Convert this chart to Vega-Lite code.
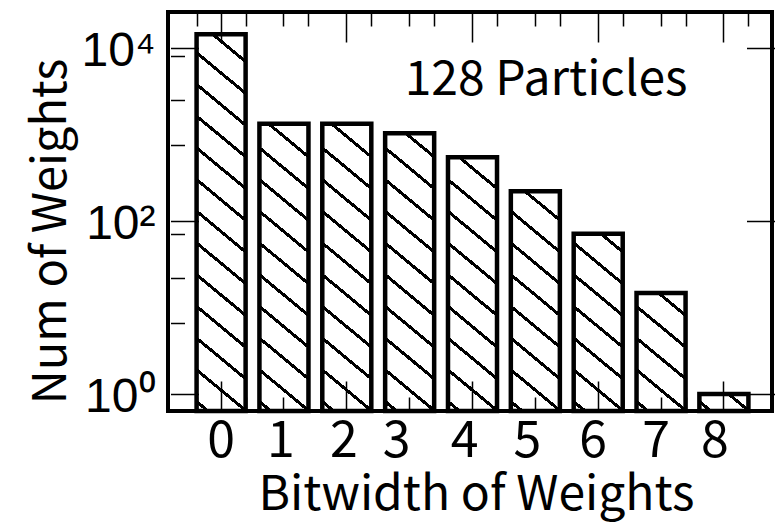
{
"$schema": "https://vega.github.io/schema/vega-lite/v6.json",
"width": 604, "height": 399,
"autosize": {"type": "none"},
"padding": {"left": 168, "top": 12, "right": 4, "bottom": 112},
"background": "white",
"config": {"view": {"stroke": "black", "strokeWidth": 4}},
"data": {"values": [
{"bit": 0, "count": 14500}, {"bit": 1, "count": 1340}, {"bit": 2, "count": 1340},
{"bit": 3, "count": 1040}, {"bit": 4, "count": 550}, {"bit": 5, "count": 222},
{"bit": 6, "count": 71.3}, {"bit": 7, "count": 14.7}, {"bit": 8, "count": 1}]},
"encoding": {
"y": {"field": "count", "type": "quantitative",
"scale": {"type": "log", "domain": [0.6358, 26300], "nice": false},
"axis": {"orient": "left", "values": [1, 6.63, 22, 71.1, 100, 762, 2528, 8170, 10000],
"labelExpr": "datum.value === 1 ? '10⁰' : datum.value === 100 ? '10²' : datum.value === 10000 ? '10⁴' : ''",
"labelFont": "Liberation Sans", "labelFontSize": 48, "labelColor": "black", "labelPadding": 13, "labelOffset": 3,
"labelFlush": false, "labelOverlap": false, "ticks": false, "tickSize": 0, "domain": false,
"grid": true, "gridColor": "black", "gridWidth": 1.5, "gridOpacity": 1,
"gridDash": {"condition": {"test": "datum.value === 1 || datum.value === 100 || datum.value === 10000", "value": [28, 548, 28, 1000]}, "value": [14, 2000]},
"title": "Num of Weights", "titleFont": "Noto Sans CJK SC", "titleFontSize": 47, "titleFontWeight": "normal", "titleColor": "black",
"titlePadding": 5, "titleY": 219, "zindex": 1}}
},
"layer": [
{"mark": {"type": "bar", "strokeWidth": 0},
"encoding": {
"y2": {"datum": 0.6358},
"x": {"field": "bit", "type": "ordinal",
"scale": {"domain": [0, 1, 2, 3, 4, 5, 6, 7, 8], "range": [2.5, 606.5], "paddingInner": 0.22, "paddingOuter": 0.415},
"axis": {"orient": "bottom", "title": "Bitwidth of Weights", "titleFont": "Noto Sans CJK SC", "titleFontSize": 48, "titleFontWeight": "normal", "titleColor": "black", "titlePadding": 5, "titleX": 308,
"labelFont": "Noto Sans CJK SC", "labelFontSize": 50, "labelColor": "black", "labelAngle": 0, "labelPadding": 5, "labelOverlap": false,
"labelOffset": {"condition": [
{"test": "datum.value === 1 || datum.value === 2", "value": -3},
{"test": "datum.value === 3", "value": -13},
{"test": "datum.value === 4 || datum.value === 5", "value": -8},
{"test": "datum.value === 6 || datum.value === 7", "value": -5},
{"test": "datum.value === 8", "value": -9}], "value": 0},
"ticks": false, "tickSize": 0, "domain": false, "grid": true, "gridColor": "black", "gridWidth": 1.5, "gridOpacity": 1,
"gridDash": {"condition": {"test": "datum.value % 2 === 0", "value": [30, 339, 30, 1000]}, "value": [14, 371, 14, 1000]}, "zindex": 1}},
"fill": {"condition": [
{"test": "datum.bit === 0", "value": {"gradient": "linear", "x1": 1, "y1": 0, "x2": 0.8817, "y2": 1.0953, "stops": [
{"offset":0,"color":"#fff"},
{"offset":0.0606,"color":"#fff"},{"offset":0.0606,"color":"#000"},{"offset":0.0702,"color":"#000"},{"offset":0.0702,"color":"#fff"},
{"offset":0.1366,"color":"#fff"},{"offset":0.1366,"color":"#000"},{"offset":0.1462,"color":"#000"},{"offset":0.1462,"color":"#fff"},
{"offset":0.2126,"color":"#fff"},{"offset":0.2126,"color":"#000"},{"offset":0.2222,"color":"#000"},{"offset":0.2222,"color":"#fff"},
{"offset":0.2886,"color":"#fff"},{"offset":0.2886,"color":"#000"},{"offset":0.2982,"color":"#000"},{"offset":0.2982,"color":"#fff"},
{"offset":0.3646,"color":"#fff"},{"offset":0.3646,"color":"#000"},{"offset":0.3742,"color":"#000"},{"offset":0.3742,"color":"#fff"},
{"offset":0.4406,"color":"#fff"},{"offset":0.4406,"color":"#000"},{"offset":0.4502,"color":"#000"},{"offset":0.4502,"color":"#fff"},
{"offset":0.5165,"color":"#fff"},{"offset":0.5165,"color":"#000"},{"offset":0.5261,"color":"#000"},{"offset":0.5261,"color":"#fff"},
{"offset":0.5925,"color":"#fff"},{"offset":0.5925,"color":"#000"},{"offset":0.6021,"color":"#000"},{"offset":0.6021,"color":"#fff"},
{"offset":0.6685,"color":"#fff"},{"offset":0.6685,"color":"#000"},{"offset":0.6781,"color":"#000"},{"offset":0.6781,"color":"#fff"},
{"offset":0.7445,"color":"#fff"},{"offset":0.7445,"color":"#000"},{"offset":0.7541,"color":"#000"},{"offset":0.7541,"color":"#fff"},
{"offset":0.8205,"color":"#fff"},{"offset":0.8205,"color":"#000"},{"offset":0.8301,"color":"#000"},{"offset":0.8301,"color":"#fff"},
{"offset":0.8965,"color":"#fff"},{"offset":0.8965,"color":"#000"},{"offset":0.9060,"color":"#000"},{"offset":0.9060,"color":"#fff"},
{"offset":0.9724,"color":"#fff"},{"offset":0.9724,"color":"#000"},{"offset":0.9820,"color":"#000"},{"offset":0.9820,"color":"#fff"},
{"offset":1,"color":"#fff"}]}},
{"test": "datum.bit === 1 || datum.bit === 2", "value": {"gradient": "linear", "x1": 1, "y1": 0, "x2": 0.8415, "y2": 1.1193, "stops": [
{"offset":0,"color":"#000"},{"offset":0.0103,"color":"#000"},{"offset":0.0103,"color":"#fff"},
{"offset":0.0949,"color":"#fff"},{"offset":0.0949,"color":"#000"},{"offset":0.1070,"color":"#000"},{"offset":0.1070,"color":"#fff"},
{"offset":0.1915,"color":"#fff"},{"offset":0.1915,"color":"#000"},{"offset":0.2037,"color":"#000"},{"offset":0.2037,"color":"#fff"},
{"offset":0.2882,"color":"#fff"},{"offset":0.2882,"color":"#000"},{"offset":0.3004,"color":"#000"},{"offset":0.3004,"color":"#fff"},
{"offset":0.3849,"color":"#fff"},{"offset":0.3849,"color":"#000"},{"offset":0.3970,"color":"#000"},{"offset":0.3970,"color":"#fff"},
{"offset":0.4816,"color":"#fff"},{"offset":0.4816,"color":"#000"},{"offset":0.4937,"color":"#000"},{"offset":0.4937,"color":"#fff"},
{"offset":0.5782,"color":"#fff"},{"offset":0.5782,"color":"#000"},{"offset":0.5904,"color":"#000"},{"offset":0.5904,"color":"#fff"},
{"offset":0.6749,"color":"#fff"},{"offset":0.6749,"color":"#000"},{"offset":0.6871,"color":"#000"},{"offset":0.6871,"color":"#fff"},
{"offset":0.7716,"color":"#fff"},{"offset":0.7716,"color":"#000"},{"offset":0.7838,"color":"#000"},{"offset":0.7838,"color":"#fff"},
{"offset":0.8683,"color":"#fff"},{"offset":0.8683,"color":"#000"},{"offset":0.8804,"color":"#000"},{"offset":0.8804,"color":"#fff"},
{"offset":0.9650,"color":"#fff"},{"offset":0.9650,"color":"#000"},{"offset":0.9771,"color":"#000"},{"offset":0.9771,"color":"#fff"},
{"offset":1,"color":"#fff"}]}},
{"test": "datum.bit === 3", "value": {"gradient": "linear", "x1": 1, "y1": 0, "x2": 0.8356, "y2": 1.1225, "stops": [
{"offset":0,"color":"#fff"},
{"offset":0.0678,"color":"#fff"},{"offset":0.0678,"color":"#000"},{"offset":0.0804,"color":"#000"},{"offset":0.0804,"color":"#fff"},
{"offset":0.1674,"color":"#fff"},{"offset":0.1674,"color":"#000"},{"offset":0.1800,"color":"#000"},{"offset":0.1800,"color":"#fff"},
{"offset":0.2669,"color":"#fff"},{"offset":0.2669,"color":"#000"},{"offset":0.2796,"color":"#000"},{"offset":0.2796,"color":"#fff"},
{"offset":0.3665,"color":"#fff"},{"offset":0.3665,"color":"#000"},{"offset":0.3791,"color":"#000"},{"offset":0.3791,"color":"#fff"},
{"offset":0.4660,"color":"#fff"},{"offset":0.4660,"color":"#000"},{"offset":0.4787,"color":"#000"},{"offset":0.4787,"color":"#fff"},
{"offset":0.5656,"color":"#fff"},{"offset":0.5656,"color":"#000"},{"offset":0.5782,"color":"#000"},{"offset":0.5782,"color":"#fff"},
{"offset":0.6652,"color":"#fff"},{"offset":0.6652,"color":"#000"},{"offset":0.6778,"color":"#000"},{"offset":0.6778,"color":"#fff"},
{"offset":0.7647,"color":"#fff"},{"offset":0.7647,"color":"#000"},{"offset":0.7774,"color":"#000"},{"offset":0.7774,"color":"#fff"},
{"offset":0.8643,"color":"#fff"},{"offset":0.8643,"color":"#000"},{"offset":0.8769,"color":"#000"},{"offset":0.8769,"color":"#fff"},
{"offset":0.9639,"color":"#fff"},{"offset":0.9639,"color":"#000"},{"offset":0.9765,"color":"#000"},{"offset":0.9765,"color":"#fff"},
{"offset":1,"color":"#fff"}]}},
{"test": "datum.bit === 4", "value": {"gradient": "linear", "x1": 1, "y1": 0, "x2": 0.8187, "y2": 1.1313, "stops": [
{"offset":0,"color":"#000"},{"offset":0.0058,"color":"#000"},{"offset":0.0058,"color":"#fff"},
{"offset":0.0998,"color":"#fff"},{"offset":0.0998,"color":"#000"},{"offset":0.1134,"color":"#000"},{"offset":0.1134,"color":"#fff"},
{"offset":0.2075,"color":"#fff"},{"offset":0.2075,"color":"#000"},{"offset":0.2211,"color":"#000"},{"offset":0.2211,"color":"#fff"},
{"offset":0.3151,"color":"#fff"},{"offset":0.3151,"color":"#000"},{"offset":0.3287,"color":"#000"},{"offset":0.3287,"color":"#fff"},
{"offset":0.4227,"color":"#fff"},{"offset":0.4227,"color":"#000"},{"offset":0.4363,"color":"#000"},{"offset":0.4363,"color":"#fff"},
{"offset":0.5304,"color":"#fff"},{"offset":0.5304,"color":"#000"},{"offset":0.5440,"color":"#000"},{"offset":0.5440,"color":"#fff"},
{"offset":0.6380,"color":"#fff"},{"offset":0.6380,"color":"#000"},{"offset":0.6516,"color":"#000"},{"offset":0.6516,"color":"#fff"},
{"offset":0.7457,"color":"#fff"},{"offset":0.7457,"color":"#000"},{"offset":0.7593,"color":"#000"},{"offset":0.7593,"color":"#fff"},
{"offset":0.8533,"color":"#fff"},{"offset":0.8533,"color":"#000"},{"offset":0.8669,"color":"#000"},{"offset":0.8669,"color":"#fff"},
{"offset":0.9609,"color":"#fff"},{"offset":0.9609,"color":"#000"},{"offset":0.9745,"color":"#000"},{"offset":0.9745,"color":"#fff"},
{"offset":1,"color":"#fff"}]}},
{"test": "datum.bit === 5", "value": {"gradient": "linear", "x1": 1, "y1": 0, "x2": 0.7879, "y2": 1.1460, "stops": [
{"offset":0,"color":"#fff"},
{"offset":0.1037,"color":"#fff"},{"offset":0.1037,"color":"#000"},{"offset":0.1190,"color":"#000"},{"offset":0.1190,"color":"#fff"},
{"offset":0.2255,"color":"#fff"},{"offset":0.2255,"color":"#000"},{"offset":0.2408,"color":"#000"},{"offset":0.2408,"color":"#fff"},
{"offset":0.3472,"color":"#fff"},{"offset":0.3472,"color":"#000"},{"offset":0.3625,"color":"#000"},{"offset":0.3625,"color":"#fff"},
{"offset":0.4689,"color":"#fff"},{"offset":0.4689,"color":"#000"},{"offset":0.4842,"color":"#000"},{"offset":0.4842,"color":"#fff"},
{"offset":0.5907,"color":"#fff"},{"offset":0.5907,"color":"#000"},{"offset":0.6060,"color":"#000"},{"offset":0.6060,"color":"#fff"},
{"offset":0.7124,"color":"#fff"},{"offset":0.7124,"color":"#000"},{"offset":0.7277,"color":"#000"},{"offset":0.7277,"color":"#fff"},
{"offset":0.8341,"color":"#fff"},{"offset":0.8341,"color":"#000"},{"offset":0.8494,"color":"#000"},{"offset":0.8494,"color":"#fff"},
{"offset":0.9559,"color":"#fff"},{"offset":0.9559,"color":"#000"},{"offset":0.9712,"color":"#000"},{"offset":0.9712,"color":"#fff"},
{"offset":1,"color":"#fff"}]}},
{"test": "datum.bit === 6", "value": {"gradient": "linear", "x1": 1, "y1": 0, "x2": 0.7317, "y2": 1.1682, "stops": [
{"offset":0,"color":"#fff"},
{"offset":0.0739,"color":"#fff"},{"offset":0.0739,"color":"#000"},{"offset":0.0923,"color":"#000"},{"offset":0.0923,"color":"#fff"},
{"offset":0.2195,"color":"#fff"},{"offset":0.2195,"color":"#000"},{"offset":0.2378,"color":"#000"},{"offset":0.2378,"color":"#fff"},
{"offset":0.3650,"color":"#fff"},{"offset":0.3650,"color":"#000"},{"offset":0.3834,"color":"#000"},{"offset":0.3834,"color":"#fff"},
{"offset":0.5106,"color":"#fff"},{"offset":0.5106,"color":"#000"},{"offset":0.5289,"color":"#000"},{"offset":0.5289,"color":"#fff"},
{"offset":0.6561,"color":"#fff"},{"offset":0.6561,"color":"#000"},{"offset":0.6745,"color":"#000"},{"offset":0.6745,"color":"#fff"},
{"offset":0.8016,"color":"#fff"},{"offset":0.8016,"color":"#000"},{"offset":0.8200,"color":"#000"},{"offset":0.8200,"color":"#fff"},
{"offset":0.9472,"color":"#fff"},{"offset":0.9472,"color":"#000"},{"offset":0.9656,"color":"#000"},{"offset":0.9656,"color":"#fff"},
{"offset":1,"color":"#fff"}]}},
{"test": "datum.bit === 7", "value": {"gradient": "linear", "x1": 1, "y1": 0, "x2": 0.5853, "y2": 1.2022, "stops": [
{"offset":0,"color":"#fff"},
{"offset":0.1279,"color":"#fff"},{"offset":0.1279,"color":"#000"},{"offset":0.1533,"color":"#000"},{"offset":0.1533,"color":"#fff"},
{"offset":0.3278,"color":"#fff"},{"offset":0.3278,"color":"#000"},{"offset":0.3531,"color":"#000"},{"offset":0.3531,"color":"#fff"},
{"offset":0.5277,"color":"#fff"},{"offset":0.5277,"color":"#000"},{"offset":0.5530,"color":"#000"},{"offset":0.5530,"color":"#fff"},
{"offset":0.7276,"color":"#fff"},{"offset":0.7276,"color":"#000"},{"offset":0.7529,"color":"#000"},{"offset":0.7529,"color":"#fff"},
{"offset":0.9274,"color":"#fff"},{"offset":0.9274,"color":"#000"},{"offset":0.9528,"color":"#000"},{"offset":0.9528,"color":"#fff"},
{"offset":1,"color":"#fff"}]}}
],
"value": {"gradient": "linear", "x1": 1, "y1": 0, "x2": -0.2078, "y2": 0.5048, "stops": [
{"offset":0,"color":"#fff"},
{"offset":0.2513,"color":"#fff"},{"offset":0.2513,"color":"#000"},{"offset":0.3207,"color":"#000"},{"offset":0.3207,"color":"#fff"},
{"offset":0.8007,"color":"#fff"},{"offset":0.8007,"color":"#000"},{"offset":0.8701,"color":"#000"},{"offset":0.8701,"color":"#fff"},
{"offset":1,"color":"#fff"}]}}
}},
{"mark": {"type": "bar", "filled": false, "stroke": "black", "strokeWidth": 4.5},
"encoding": {
"y2": {"datum": 0.6358},
"x": {"field": "bit", "type": "ordinal",
"axis": {"orient": "top", "title": null, "labels": false, "ticks": false, "tickSize": 0, "domain": false,
"grid": true, "tickBand": "extent", "gridColor": "black", "gridWidth": 1.5, "gridOpacity": 1, "gridDash": [14, 371, 14, 1000], "zindex": 1}}
}},
{"transform": [{"filter": "datum.bit === 3"}],
"mark": {"type": "text", "text": "128 Particles", "font": "Noto Sans CJK SC", "fontSize": 48, "align": "left", "baseline": "alphabetic", "color": "black", "dx": -5},
"encoding": {
"x": {"field": "bit", "type": "ordinal", "axis": null},
"y": {"datum": 2880, "type": "quantitative"}
}}
],
"resolve": {"axis": {"x": "independent"}}
}
